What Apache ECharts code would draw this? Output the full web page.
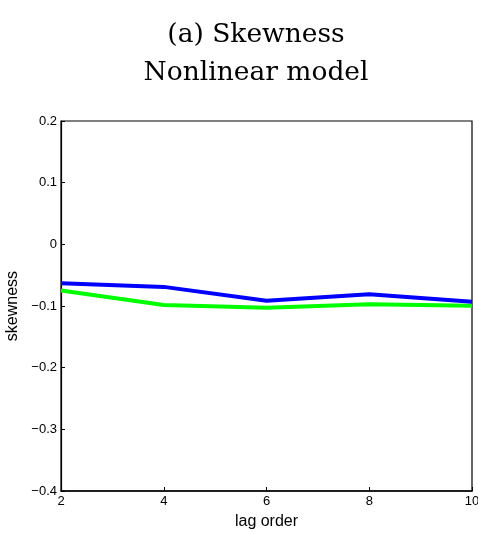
<!DOCTYPE html>
<html>
<head>
<meta charset="utf-8">
<script src="https://cdn.jsdelivr.net/npm/echarts@6/dist/echarts.min.js"></script>
<style>
  html, body { margin: 0; padding: 0; background: #fff; }
  #chart { width: 478px; height: 534px; }
</style>
</head>
<body>
<div id="chart"></div>
<script>
// lag orders and the two skewness curves
var lags = [2, 4, 6, 8, 10];
var blueVals = [-0.063, -0.069, -0.0915, -0.081, -0.093];
var greenVals = [-0.075, -0.0985, -0.103, -0.097, -0.0995];
var titleLines = ['(a) Skewness', 'Nonlinear model'];

function pairs(xs, ys) {
  return xs.map(function (x, i) { return [x, ys[i]]; });
}
function minus(v) {
  var s = String(Math.round(v * 10) / 10);
  return s.replace('-', '\u2212');
}

var chart = echarts.init(document.getElementById('chart'));
chart.setOption({
  animation: false,
  title: {
    text: titleLines.join('\n'),
    left: 251,
    textAlign: 'center',
    top: 11,
    textStyle: {
      fontFamily: 'DejaVu Serif',
      fontWeight: 'normal',
      fontSize: 26.5,
      color: '#000',
      lineHeight: 38
    }
  },
  grid: {
    left: 61, top: 121, right: 6, bottom: 43,
    outerBoundsMode: 'none',
    containLabel: false,
    show: true, borderColor: '#000', borderWidth: 1.2, backgroundColor: '#fff'
  },
  xAxis: {
    type: 'value',
    min: 2, max: 10, interval: 2,
    name: 'lag order',
    nameLocation: 'middle',
    nameGap: 23,
    nameTextStyle: { fontFamily: 'Liberation Sans', fontSize: 16, color: '#000' },
    axisLine: { onZero: false, lineStyle: { color: '#000', width: 1.5 } },
    axisTick: { inside: true, length: 4, lineStyle: { color: '#000' } },
    axisLabel: { fontFamily: 'Liberation Sans', fontSize: 13, color: '#000', margin: 4 },
    splitLine: { show: false }
  },
  yAxis: {
    type: 'value',
    min: -0.4, max: 0.2, interval: 0.1,
    name: 'skewness',
    nameLocation: 'middle',
    nameGap: 36,
    nameTextStyle: { fontFamily: 'Liberation Sans', fontSize: 16, color: '#000' },
    axisLine: { onZero: false, lineStyle: { color: '#000', width: 1.2 } },
    axisTick: { inside: true, length: 4, lineStyle: { color: '#000' } },
    axisLabel: {
      fontFamily: 'Liberation Sans', fontSize: 13, color: '#000', margin: 4,
      formatter: minus
    },
    splitLine: { show: false }
  },
  series: [
    {
      type: 'line',
      data: pairs(lags, greenVals),
      showSymbol: false,
      lineStyle: { color: '#00ff00', width: 4 },
      z: 2
    },
    {
      type: 'line',
      data: pairs(lags, blueVals),
      showSymbol: false,
      lineStyle: { color: '#0000ff', width: 4 },
      z: 3
    }
  ]
});
</script>
</body>
</html>
